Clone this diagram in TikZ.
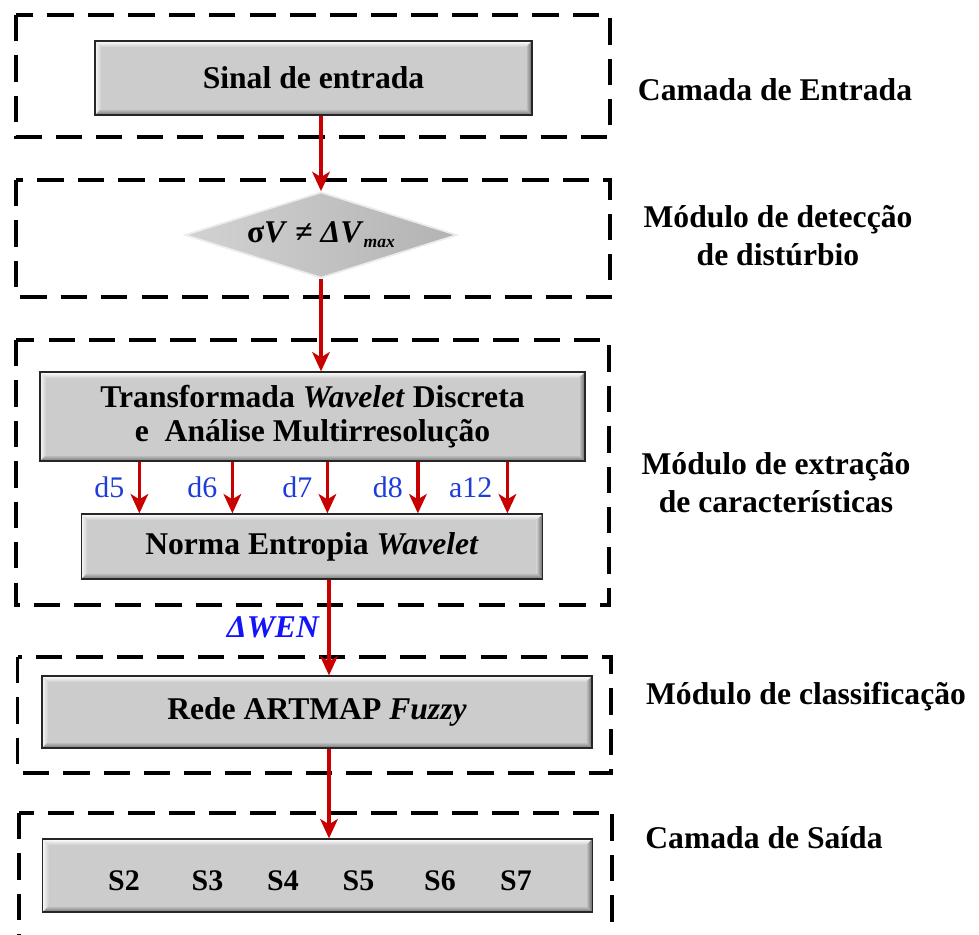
\documentclass[tikz,border=0pt]{standalone}
\usepackage{fontspec}
\setmainfont{Liberation Serif}
\usepackage{tikz}
\usetikzlibrary{
  arrows.meta,
  calc,
  positioning,
  shapes.geometric
}
\definecolor{panelgray}{RGB}{204,204,204}
\definecolor{flowred}{RGB}{200,0,0}
\definecolor{bandblue}{RGB}{30,60,215}
\definecolor{wenblue}{RGB}{20,20,250}
\newcommand{\bevw}{3.5pt}

\begin{document}
\begin{tikzpicture}[>={Stealth[length=11pt,width=10pt,inset=3pt]},
  frame/.style={draw=black, line width=2pt, dash pattern=on 15pt off 8pt},
  panel/.style={draw=black!85, line width=0.7pt, fill=panelgray, inner sep=0pt,
    align=center, font=\bfseries\fontsize{18}{19.4}\selectfont,
    path picture={
      \path (path picture bounding box.north west) coordinate (pnw)
            (path picture bounding box.north east) coordinate (pne)
            (path picture bounding box.south west) coordinate (psw)
            (path picture bounding box.south east) coordinate (pse);
      \shade[top color=white, bottom color=panelgray]
        (pnw) -- (pne) -- ([shift={(-\bevw,-\bevw)}]pne) -- ([shift={(\bevw,-\bevw)}]pnw) -- cycle;
      \shade[left color=white!85!panelgray, right color=panelgray]
        (pnw) -- (psw) -- ([shift={(\bevw,\bevw)}]psw) -- ([shift={(\bevw,-\bevw)}]pnw) -- cycle;
      \shade[top color=panelgray, bottom color=black!55]
        (psw) -- (pse) -- ([shift={(-\bevw,\bevw)}]pse) -- ([shift={(\bevw,\bevw)}]psw) -- cycle;
      \shade[left color=panelgray, right color=black!60]
        (pne) -- (pse) -- ([shift={(-\bevw,\bevw)}]pse) -- ([shift={(-\bevw,-\bevw)}]pne) -- cycle;
    }},
  layer/.style={font=\bfseries\fontsize{18}{21.6}\selectfont, align=center},
  flow/.style={->, draw=flowred, line width=2pt},
  band/.style={text=bandblue, font=\fontsize{17}{20}\selectfont},
  sout/.style={font=\bfseries\fontsize{17}{20}\selectfont}]

  \useasboundingbox (0,0) rectangle (19.58,-18.68);
  \clip (0,0) rectangle (19.58,-18.68);

  % dashed layers
  \draw[frame] (0.32,-0.30) rectangle (12.20,-2.74);
  \draw[frame] (0.32,-3.60) rectangle (12.20,-5.94);
  \draw[frame] (0.32,-6.80) rectangle (12.18,-12.10);
  \draw[frame] (0.35,-13.14) rectangle (12.22,-15.46);
  \draw[frame] (0.38,-16.26) rectangle (12.24,-19.50);

  % blocks
  \node[panel, minimum width=8.74cm, minimum height=1.48cm] (in) at (6.27,-1.56) {Sinal de entrada};
  \node[diamond, aspect=3.16, inner sep=0pt, minimum width=5.44cm, minimum height=1.72cm,
        left color=gray!35, right color=gray!60, draw=white!85!gray, line width=1pt,
        font=\bfseries\fontsize{18}{20}\selectfont] (dia) at (6.42,-4.70)
        {σ\textit{V} ≠ \textit{ΔV}\raisebox{-0.35ex}{\fontsize{10}{10}\selectfont\textit{max}}};
  \node[panel, minimum width=10.9cm, minimum height=1.78cm] (dwt) at (6.25,-8.33)
        {Transformada \textit{Wavelet} Discreta\\e\ \ Análise Multirresolução};
  \node[panel, minimum width=9.23cm, minimum height=1.30cm] (wen) at (6.24,-10.93)
        {Norma Entropia \textit{Wavelet}};
  \node[panel, minimum width=11.0cm, minimum height=1.44cm] (art) at (6.34,-14.24)
        {Rede ARTMAP \textit{Fuzzy}};
  \node[panel, minimum width=10.99cm, minimum height=1.46cm] (out) at (6.35,-17.51) {};
  \foreach \x/\s in {2.48/S2, 4.15/S3, 5.66/S4, 7.17/S5, 8.80/S6, 10.32/S7}
    \node[sout] (\s) at (\x,-17.62) {\s};

  % layer names
  \node[layer] (lin)  at (15.50,-1.80)  {Camada de Entrada};
  \node[layer] (ldet) at (15.56,-4.72)  {Módulo de detecção\\de distúrbio};
  \node[layer] (lext) at (15.52,-9.66)  {Módulo de extração\\de características};
  \node[layer] (lcls) at (16.12,-13.94) {Módulo de classificação};
  \node[layer] (lout) at (15.28,-16.76) {Camada de Saída};

  % arrows
  \draw[flow] (dia.north |- in.south) -- (dia.north);
  \draw[flow] (dia.south) -- (dia.south |- dwt.north);
  \foreach \dx/\lab in {2.0/d5, 3.86/d6, 5.76/d7, 7.57/d8, 9.36/a12} {
    \path ([xshift=\dx cm]dwt.south west) coordinate (t);
    \draw[flow] (t) -- node[band, left=0.15cm] {\lab} (t |- wen.north);
  }
  \path ([xshift=0.34cm]wen.south) coordinate (w);
  \draw[flow] (w) -- node[left=0.05cm, text=wenblue, font=\bfseries\itshape\fontsize{18}{20}\selectfont] {ΔWEN} (w |- art.north);
  \path ([xshift=0.24cm]art.south) coordinate (r);
  \draw[flow] (r) -- (r |- out.north);
\end{tikzpicture}
\end{document}
